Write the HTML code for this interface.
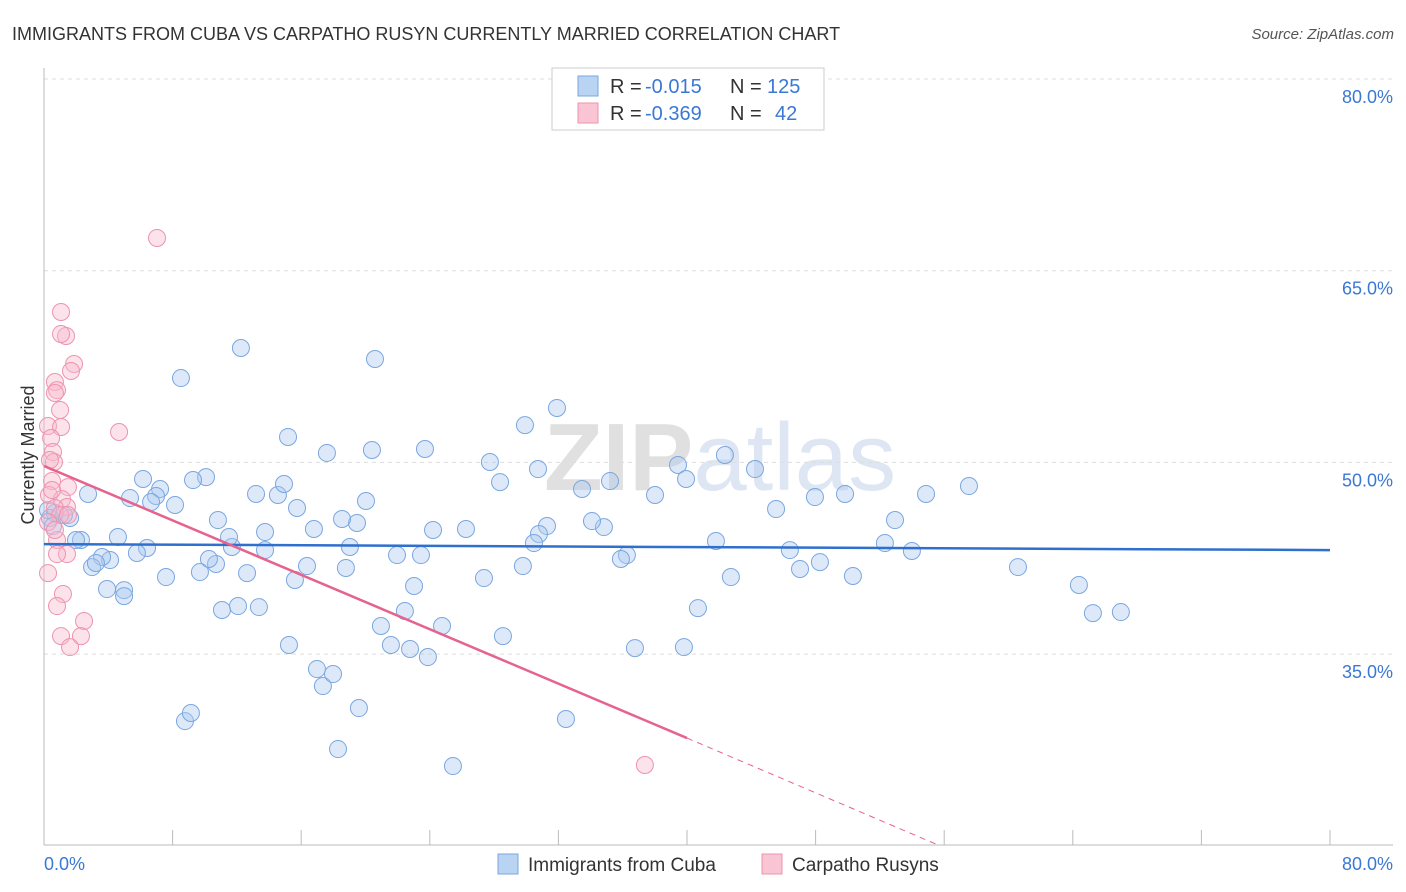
<!DOCTYPE html>
<html><head><meta charset="utf-8"><style>
body{margin:0;background:#fff;font-family:"Liberation Sans",sans-serif;}
#wrap{position:relative;width:1406px;height:892px;overflow:hidden;}
svg text{font-family:"Liberation Sans",sans-serif;}
</style></head><body>
<div id="wrap">
<svg id="svg" width="1406" height="892">
<text x="12" y="40" font-size="18" fill="#333">IMMIGRANTS FROM CUBA VS CARPATHO RUSYN CURRENTLY MARRIED CORRELATION CHART</text>
<text x="1394" y="39" font-size="15" fill="#555" font-style="italic" text-anchor="end">Source: ZipAtlas.com</text>
<text x="720" y="490" font-size="96" fill="#e4e4e4" text-anchor="middle" font-family="Liberation Serif"><tspan font-weight="bold" fill="#e0e0e0">ZIP</tspan><tspan fill="#dde6f2">atlas</tspan></text>
<text transform="translate(34,455) rotate(-90)" font-size="18" fill="#333" text-anchor="middle">Currently Married</text>
<g id="grid"></g><g id="pts"></g><g id="trend"></g>
<g>
<rect x="552" y="68" width="272" height="62" fill="#fff" stroke="#ccc"/>
<rect x="578" y="76" width="20" height="20" fill="#b9d3f3" stroke="#7aa7e0"/>
<rect x="578" y="103" width="20" height="20" fill="#f9c4d3" stroke="#ee93ae"/>
<text x="610" y="93" font-size="20" fill="#333">R =</text>
<text x="645" y="93" font-size="20" fill="#3a78d4">-0.015</text>
<text x="730" y="93" font-size="20" fill="#333">N =</text>
<text x="767" y="93" font-size="20" fill="#3a78d4">125</text>
<text x="610" y="120" font-size="20" fill="#333">R =</text>
<text x="645" y="120" font-size="20" fill="#3a78d4">-0.369</text>
<text x="730" y="120" font-size="20" fill="#333">N =</text>
<text x="775" y="120" font-size="20" fill="#3a78d4">42</text>
</g>
<g>
<rect x="498" y="854" width="20" height="20" fill="#b9d3f3" stroke="#7aa7e0"/>
<text x="528" y="871" font-size="19" fill="#333">Immigrants from Cuba</text>
<rect x="762" y="854" width="20" height="20" fill="#f9c4d3" stroke="#ee93ae"/>
<text x="792" y="871" font-size="19" fill="#333">Carpatho Rusyns</text>
</g>
</svg></div>
<script>
const yTicks=[35,50,65,80];
const xTickLabels=["0.0%","80.0%"];
const cubaX=[12.25,8.52,20.59,31.91,15.18,17.6,20.4,23.7,29.92,27.74,28.37,30.73,33.47,35.21,38.01,39.44,39.94,42.36,44.23,45.54,47.96,49.83,52.94,54.87,57.54,52.31,53.99,60.59,64.38,65.25,66.99,50.32,48.27,47.03,46.4,42.73,41.8,40.68,39.81,36.76,36.26,35.89,34.83,34.09,31.29,30.79,30.48,29.79,27.37,28.55,26.25,24.2,24.76,23.88,22.77,23.02,22.45,21.58,21.96,23.45,20.96,20.03,19.47,19.03,18.78,18.54,16.79,16.36,15.74,15.61,14.55,14.93,13.19,13.75,13.75,13.37,12.07,12.63,11.07,11.69,11.51,10.82,10.7,10.26,9.7,10.08,9.27,8.15,7.22,6.97,6.66,6.16,6.41,5.78,5.35,7.59,4.98,4.98,3.92,4.11,4.6,3.61,2.99,3.23,2.3,1.99,2.74,1.62,1.24,0.68,0.37,0.56,0.25,15.24,16.98,17.35,17.98,19.59,18.29,25.44,32.47,8.77,9.14];
const cubaY=[58.95,56.6,58.09,54.26,51.99,50.74,50.97,51.05,52.92,50.03,48.46,49.48,47.92,48.54,47.45,49.8,48.7,50.58,49.48,46.35,47.29,47.53,45.49,47.53,48.15,43.69,43.07,41.81,40.41,38.21,38.29,41.11,42.2,41.66,43.14,41.03,43.85,38.6,35.55,35.47,42.75,42.44,44.94,45.41,45.02,44.4,43.69,41.89,40.95,36.41,44.79,44.71,37.2,34.77,35.4,40.33,38.37,35.71,42.75,42.75,37.2,46.98,45.26,43.38,41.74,45.57,44.79,41.89,46.43,40.8,47.45,48.31,47.53,44.55,43.14,38.68,38.76,41.34,38.45,43.38,44.16,45.49,42.05,42.44,41.42,48.85,48.62,46.67,47.92,47.37,46.9,48.7,43.3,42.91,47.21,41.03,40.01,39.54,40.09,42.36,44.16,42.6,41.81,42.13,43.93,43.93,47.53,45.65,45.88,46.04,45.65,45.02,46.27,35.71,33.83,32.5,33.44,30.78,27.57,26.24,29.92,29.76,30.39];
const rusynX=[7.03,1.06,1.37,1.06,1.87,1.68,0.68,0.81,0.68,1.0,4.67,0.25,1.06,0.44,0.56,0.62,0.5,1.49,0.31,1.12,1.43,0.68,1.0,0.25,1.49,0.81,1.43,0.81,0.25,1.18,0.81,2.49,1.06,2.3,1.62,37.38,0.5,0.37,0.68];
const rusynY=[67.56,61.77,59.89,60.05,57.7,57.15,56.29,55.66,55.43,54.1,52.38,52.85,52.77,51.91,50.81,50.03,48.54,48.07,47.45,47.13,46.51,46.43,45.88,45.33,45.88,43.93,42.83,42.83,41.34,39.7,38.76,37.59,36.41,36.41,35.55,26.32,47.84,50.19,44.71];
const cubaTrendX=[0,80], cubaTrendY=[43.61,43.14];
const rusynTrendX=[0,40,55.74], rusynTrendY=[49.72,28.43,20];
const NS="http://www.w3.org/2000/svg";
const sx=v=>44+v*16.075, sy=v=>79+(80-v)*12.78;
function mk(tag,attrs,parent){const e=document.createElementNS(NS,tag);for(const k in attrs)e.setAttribute(k,attrs[k]);document.getElementById(parent).appendChild(e);return e;}
yTicks.forEach(t=>{
 const g=mk('line',{x1:44,x2:1393,y1:sy(t),y2:sy(t),stroke:'#ddd','stroke-dasharray':'4,4'},'grid');
 
 
 const l=mk('text',{x:1393,y:sy(t)+24,'font-size':18,fill:'#3a78d4','text-anchor':'end'},'grid');l.textContent=t.toFixed(1)+'%';
 
 
});
const ax=mk('line',{x1:44,x2:1393,y1:845,y2:845,stroke:'#bbb'},'grid');


const ay=mk('line',{x1:44,x2:44,y1:68,y2:845,stroke:'#bbb'},'grid');


for(let i=0;i<=10;i++){const t=mk('line',{x1:sx(i*8),x2:sx(i*8),y1:830,y2:845,stroke:'#bbb'},'grid');
 
 }
[[0,'start',44],[80,'end',1393]].forEach((d,i)=>{const l=mk('text',{x:d[2],y:870,'font-size':18,fill:'#3a78d4','text-anchor':d[1]},'grid');l.textContent=xTickLabels[i];
 
 });
cubaX.forEach((x,i)=>{const c=mk('circle',{cx:sx(x),cy:sy(cubaY[i]),r:8.5,fill:'rgba(170,200,240,0.4)',stroke:'#7aa7e0','stroke-width':1},'pts');
 
 });
rusynX.forEach((x,i)=>{const c=mk('circle',{cx:sx(x),cy:sy(rusynY[i]),r:8.5,fill:'rgba(248,185,205,0.4)',stroke:'#ee93ae','stroke-width':1},'pts');
 
 });
const bt=mk('line',{x1:sx(cubaTrendX[0]),y1:sy(cubaTrendY[0]),x2:sx(cubaTrendX[1]),y2:sy(cubaTrendY[1]),stroke:'#2f6fce','stroke-width':2.5},'trend');


const pt=mk('line',{x1:sx(rusynTrendX[0]),y1:sy(rusynTrendY[0]),x2:sx(rusynTrendX[1]),y2:sy(rusynTrendY[1]),stroke:'#e5638c','stroke-width':2.5},'trend');


const pd=mk('line',{x1:sx(rusynTrendX[1]),y1:sy(rusynTrendY[1]),x2:sx(rusynTrendX[2]),y2:sy(rusynTrendY[2]),stroke:'#e5638c','stroke-width':1,'stroke-dasharray':'6,5'},'trend');


</script></body></html>
